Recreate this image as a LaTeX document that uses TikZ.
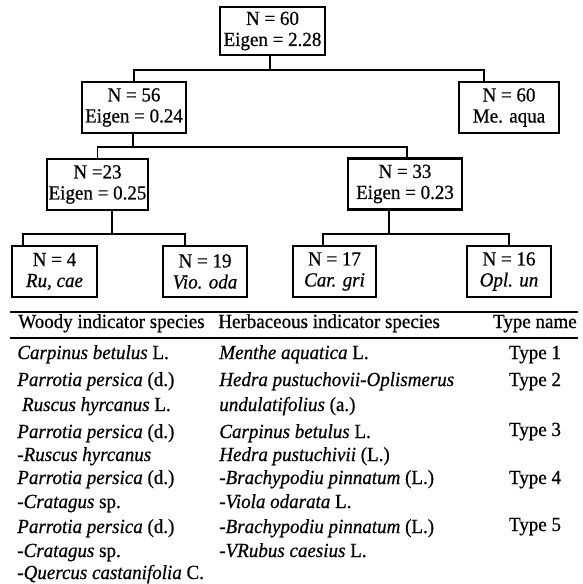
\documentclass[tikz,border=0pt]{standalone}
\usepackage{fontspec}
\setmainfont{Liberation Serif}[FakeStretch=0.95, FakeBold=0.6]
\usetikzlibrary{calc}

\tikzset{
  clusterbox/.style={draw, line width=1.3pt, align=center, inner sep=0pt,
    minimum height=30.6pt, font=\fontsize{12}{12.6}\selectfont},
  link/.style={line width=1pt},
  cell/.style={anchor=base west, inner sep=0pt, font=\fontsize{12}{14}\selectfont},
}

\begin{document}
\begin{tikzpicture}[x=0.6pt, y=-0.6pt]
  \useasboundingbox (0,0) rectangle (582,584);
  % dendrogram boxes
  \node[clusterbox, minimum width=63pt, minimum height=28.8pt] (root) at (272.5,31) {N = 60\\Eigen = 2.28};
  \node[clusterbox, minimum width=62.4pt] (n56) at (134,107.5) {N = 56\\Eigen = 0.24};
  \node[clusterbox, minimum width=60pt] (meaqua) at (509,107.5) {N = 60\\Me. aqua};
  \node[clusterbox, minimum width=60.6pt] (n23) at (97.5,184.5) {N =23\\Eigen = 0.25};
  \node[clusterbox, minimum width=68.4pt] (n33) at (405,184) {N = 33\\Eigen = 0.23};
  \node[clusterbox, minimum width=51pt] (rucae) at (54.5,271.5) {N = 4\\\textit{Ru, cae}};
  \node[clusterbox, minimum width=50.4pt] (vioda) at (205,271.5) {N = 19\\\textit{Vio. oda}};
  \node[clusterbox, minimum width=49.8pt] (cargri) at (334.5,271.5) {N = 17\\\textit{Car. gri}};
  \node[clusterbox, minimum width=50.4pt] (oplun) at (509,271.5) {N = 16\\\textit{Opl. un}};

  % split lines
  \coordinate (bus0) at (270,70);
  \coordinate (bus1) at (133,147);
  \coordinate (bus2) at (112,234);
  \coordinate (bus3) at (389,234);
  \draw[link] (root.south -| bus0) -- (bus0);
  \draw[link] (n56.north) |- (bus0) -| ($(meaqua.north)+(-25,0)$);
  \draw[link] (n56.south -| bus1) -- (bus1);
  \draw[link] (n23.north) |- (bus1) -| ($(n33.north)+(2,0)$);
  \draw[link] (n23.south -| bus2) -- (bus2);
  \draw[link] ($(rucae.north)+(-31.5,0)$) |- (bus2) -| ($(vioda.north)+(-20,0)$);
  \draw[link] (n33.south -| bus3) -- (bus3);
  \draw[link] ($(cargri.north)+(-11.5,0)$) |- (bus3) -| (oplun.north);

  % table
  \draw[line width=1.5pt] (10,312) -- (578,312);
  \draw[line width=0.9pt] (10,338) -- (578,338);
  \node[cell] (hwoody) at (18,328) {Woody indicator species};
  \node[cell] (hherb) at (218,328) {Herbaceous indicator species};
  \node[cell, anchor=base east] (htype) at (577,328) {Type name};

  \foreach \i/\y/\txt in {
    1/359/{\textit{Carpinus betulus} L.},
    2/386/{\textit{Parrotia persica} (d.)},
    3/411/{\ \textit{Ruscus hyrcanus} L.},
    4/438/{\textit{Parrotia persica} (d.)},
    5/461/{\textit{-Ruscus hyrcanus}},
    6/484/{\textit{Parrotia persica} (d.)},
    7/508/{\textit{-Cratagus} sp.},
    8/533/{\textit{Parrotia persica} (d.)},
    9/557/{\textit{-Cratagus} sp.},
    10/579/{\textit{-Quercus castanifolia} C.}} {
    \node[cell] (woody\i) at (17,\y) {\txt};
  }
  \foreach \i/\y/\txt in {
    1/359/{\textit{Menthe aquatica} L.},
    2/386/{\textit{Hedra pustuchovii-Oplismerus}},
    3/411/{\textit{undulatifolius} (a.)},
    4/438/{\textit{Carpinus betulus} L.},
    5/461/{\textit{Hedra pustuchivii} (L.)},
    6/484/{\textit{-Brachypodiu pinnatum} (L.)},
    7/508/{\textit{-Viola odarata} L.},
    8/533/{\textit{-Brachypodiu pinnatum} (L.)},
    9/557/{\textit{-VRubus caesius} L.}} {
    \node[cell] (herb\i) at (219,\y) {\txt};
  }
  \foreach \i/\y in {1/359,2/386,3/436,4/484,5/531} {
    \node[cell, anchor=base] (type\i) at (535,\y) {Type \i};
  }
\end{tikzpicture}
\end{document}
